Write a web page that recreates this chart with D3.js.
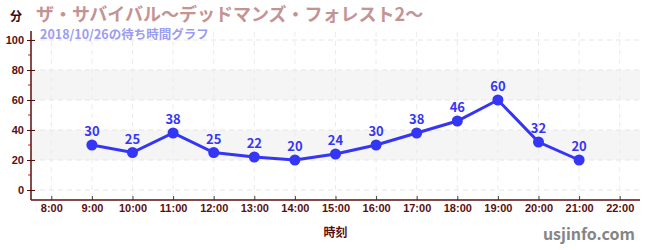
<!DOCTYPE html>
<html>
<head>
<meta charset="utf-8">
<script src="https://cdn.jsdelivr.net/npm/d3@7/dist/d3.min.js"></script>
<style>
  body { margin: 0; background: #fff; }
  svg { display: block; font-family: "Noto Sans CJK JP", "Noto Sans", sans-serif; }
</style>
</head>
<body>
<script>
// Wait times through the day
const hours = [9, 10, 11, 12, 13, 14, 15, 16, 17, 18, 19, 20, 21];
const waits = [30, 25, 38, 25, 22, 20, 24, 30, 38, 46, 60, 32, 20];
const xTicks = [8, 9, 10, 11, 12, 13, 14, 15, 16, 17, 18, 19, 20, 21, 22];
const yTicks = [0, 20, 40, 60, 80, 100];
const yMinor = [10, 30, 50, 70, 90];
const bands = [[20, 40], [60, 80]];

const W = 650, H = 250;
const margin = { top: 40, right: 10, bottom: 50, left: 31 };

const svg = d3.select("body").append("svg")
  .attr("width", W)
  .attr("height", H);

const x = d3.scaleLinear().domain([7.5, 22.5]).range([margin.left, W - margin.right]);
const y = d3.scaleLinear().domain([0, 100]).range([190, 40]);
const axisColor = "#5a0f0f";
const blue = "#3535f5";

// shaded bands
svg.selectAll(".band").data(bands).enter().append("rect")
  .attr("x", margin.left)
  .attr("width", W - margin.right - margin.left)
  .attr("y", d => y(d[1]))
  .attr("height", d => y(d[0]) - y(d[1]))
  .attr("fill", "#f5f5f5");

// grid lines
svg.selectAll(".hgrid").data(yTicks).enter().append("line")
  .attr("x1", margin.left).attr("x2", W - margin.right)
  .attr("y1", d => y(d)).attr("y2", d => y(d))
  .attr("stroke", "#e6e6e6").attr("stroke-dasharray", "5,4");

svg.selectAll(".vgrid").data(xTicks).enter().append("line")
  .attr("x1", d => x(d)).attr("x2", d => x(d))
  .attr("y1", 32).attr("y2", 200)
  .attr("stroke", "#ececec").attr("stroke-dasharray", "5,4");

// y axis
const yAxis = svg.append("g")
  .attr("transform", `translate(${margin.left},0)`)
  .call(d3.axisLeft(y).tickValues(yTicks).tickSize(4).tickSizeOuter(0));
yAxis.select(".domain").remove();
yAxis.selectAll(".tick line").attr("stroke", axisColor).attr("transform", "translate(4,0)").attr("x2", -8);
yAxis.selectAll("text")
  .attr("x", -7)
  .style("font-size", "11px").style("font-weight", "bold").attr("fill", axisColor);

svg.selectAll(".minor").data(yMinor).enter().append("line")
  .attr("x1", margin.left - 3).attr("x2", margin.left)
  .attr("y1", d => y(d)).attr("y2", d => y(d))
  .attr("stroke", "#d02020");

svg.append("line")
  .attr("x1", margin.left).attr("x2", margin.left)
  .attr("y1", 31).attr("y2", 200)
  .attr("stroke", axisColor).attr("stroke-width", 1.5);

// x axis
const xAxis = svg.append("g")
  .attr("transform", "translate(0,200)")
  .call(d3.axisBottom(x).tickValues(xTicks).tickFormat(d => d + ":00").tickSize(4).tickSizeOuter(0));
xAxis.select(".domain").remove();
xAxis.selectAll(".tick line").attr("stroke", "#444").attr("y1", -4).attr("y2", 0);
xAxis.selectAll("text")
  .attr("y", 4)
  .style("font-size", "11px").style("font-weight", "bold").attr("fill", axisColor);

svg.append("line")
  .attr("x1", margin.left).attr("x2", W - margin.right)
  .attr("y1", 200).attr("y2", 200)
  .attr("stroke", axisColor).attr("stroke-width", 1.5);

// line + points
const pts = hours.map((h, i) => ({ h, v: waits[i] }));
svg.append("path")
  .datum(pts)
  .attr("fill", "none")
  .attr("stroke", blue)
  .attr("stroke-width", 3)
  .attr("d", d3.line().x(d => x(d.h)).y(d => y(d.v)));

svg.selectAll(".dot").data(pts).enter().append("circle")
  .attr("cx", d => x(d.h)).attr("cy", d => y(d.v))
  .attr("r", 5.5).attr("fill", blue);

svg.selectAll(".val").data(pts).enter().append("text")
  .attr("x", d => x(d.h)).attr("y", d => y(d.v) - 9)
  .attr("text-anchor", "middle")
  .style("font-size", "13px").style("font-weight", "bold")
  .attr("fill", blue)
  .text(d => d.v);

// titles
svg.append("text")
  .attr("x", 10).attr("y", 21)
  .style("font-size", "12px").style("font-weight", "bold")
  .attr("fill", "#3a0a0a").text("分");

svg.append("text")
  .attr("x", 36).attr("y", 21)
  .style("font-size", "18px").style("font-weight", "bold")
  .attr("fill", "#c49494").text("ザ・サバイバル〜デッドマンズ・フォレスト2〜");

svg.append("text")
  .attr("x", 40).attr("y", 39)
  .style("font-size", "12.5px").style("font-weight", "bold")
  .attr("fill", "#9c9cf0").text("2018/10/26の待ち時間グラフ");

svg.append("text")
  .attr("x", x(15)).attr("y", 237)
  .attr("text-anchor", "middle")
  .style("font-size", "12px").style("font-weight", "bold")
  .attr("fill", axisColor).text("時刻");

svg.append("text")
  .attr("x", 635).attr("y", 240)
  .attr("text-anchor", "end")
  .style("font-size", "16px").style("font-weight", "bold")
  .attr("fill", "#858585").text("usjinfo.com");
</script>
</body>
</html>
